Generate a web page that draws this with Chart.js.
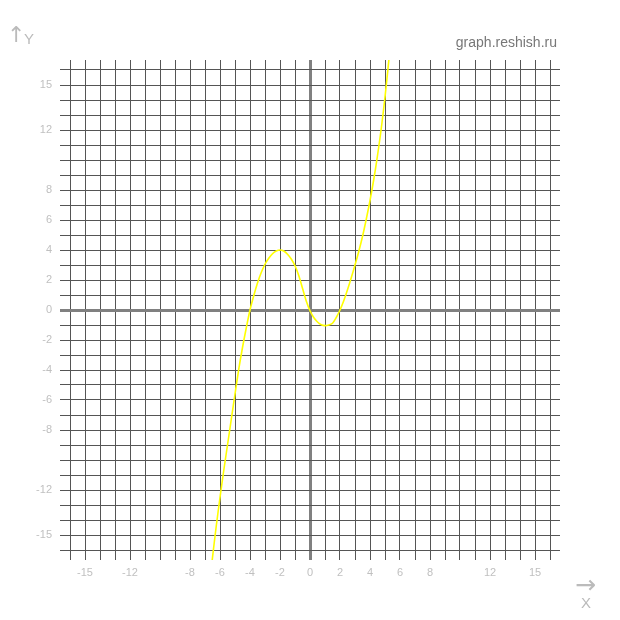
<!DOCTYPE html>
<html>
<head>
<meta charset="utf-8">
<script src="https://cdn.jsdelivr.net/npm/chart.js@4/dist/chart.umd.min.js"></script>
<style>
  html, body { margin: 0; padding: 0; background: #fff; }
  #wrap { position: relative; width: 620px; height: 620px; }
  .lbl { position: absolute; font-family: "Liberation Sans", Arial, sans-serif; white-space: nowrap; line-height: 1; }
  #site { right: 63px; top: 35px; font-size: 14px; color: #777; }
  #yarrow { left: 7px; top: 24px; font-size: 22px; color: #bbb; font-family: "DejaVu Sans", sans-serif; }
  #ylab { left: 24px; top: 31px; font-size: 15px; color: #bbb; }
  #xarrow { left: 575px; top: 572px; font-size: 25px; color: #bbb; font-family: "DejaVu Sans", sans-serif; }
  #xlab { left: 581px; top: 595px; font-size: 15px; color: #bbb; }
</style>
</head>
<body>
<div id="wrap">
  <canvas id="graph" width="620" height="620"></canvas>
  <div class="lbl" id="site">graph.reshish.ru</div>
  <div class="lbl" id="yarrow">↑</div>
  <div class="lbl" id="ylab">Y</div>
  <div class="lbl" id="xarrow">→</div>
  <div class="lbl" id="xlab">X</div>
</div>
<script>
// curve values, every 0.25 along x
const curveX = [-6.75, -6.5, -6.25, -6.0, -5.75, -5.5, -5.25, -5.0, -4.75, -4.5, -4.25, -4.0,
  -3.75, -3.5, -3.25, -3.0, -2.75, -2.5, -2.25, -2.0, -1.75, -1.5, -1.25, -1.0,
  -0.75, -0.5, -0.25, 0, 0.25, 0.5, 0.75, 1.0, 1.25, 1.5, 1.75, 2.0,
  2.25, 2.5, 2.75, 3.0, 3.25, 3.5, 3.75, 4.0, 4.25, 4.5, 4.75, 5.0, 5.25, 5.5];
const curveY = [-18.7, -16.5, -14.4, -12.5, -10.7, -9.0, -7.3, -5.6, -3.95, -2.5, -1.2, 0,
  0.95, 1.8, 2.5, 3.05, 3.45, 3.75, 3.93, 4.0, 3.93, 3.72, 3.4, 2.95,
  2.3, 1.45, 0.6, -0.05, -0.5, -0.8, -0.98, -1.04, -1.0, -0.88, -0.5, 0,
  0.62, 1.35, 2.15, 3.0, 3.9, 4.9, 6.05, 7.3, 8.7, 10.3, 12.1, 14.2, 16.6, 19.4];

const gridValues = [];
for (let v = -16; v <= 16; v++) gridValues.push(v);
const xTickLabels = [-15, -12, -8, -6, -4, -2, 0, 2, 4, 6, 8, 12, 15];
const yTickLabels = [-15, -12, -8, -6, -4, -2, 0, 2, 4, 6, 8, 12, 15];

(function () {
  const canvas = document.getElementById('graph');
  const points = curveX.map((x, i) => ({ x: x, y: curveY[i] }));

  function axis(labels, isY) {
    return {
      type: 'linear',
      min: -50 / 3,
      max: 50 / 3,
      position: isY ? 'left' : 'bottom',
      afterBuildTicks: (scale) => {
        scale.ticks = gridValues.map((v) => ({ value: v }));
      },
      afterFit: (scale) => {
        if (isY) scale.width = 60;
        else scale.height = 60;
      },
      border: { display: false },
      grid: {
        drawTicks: false,
        color: (ctx) => (ctx.tick && ctx.tick.value === 0 ? '#808080' : '#555555'),
        lineWidth: (ctx) => (ctx.tick && ctx.tick.value === 0 ? 3 : 1),
      },
      ticks: {
        autoSkip: false,
        maxRotation: 0,
        padding: isY ? 8 : 6,
        color: '#c0c0c0',
        font: { family: '"Liberation Sans", Arial, sans-serif', size: 11 },
        callback: (value) => (labels.includes(value) ? String(value) : ''),
      },
    };
  }

  new Chart(canvas, {
    type: 'scatter',
    data: {
      datasets: [
        {
          data: points,
          showLine: true,
          borderColor: '#ffff00',
          borderWidth: 1.6,
          pointRadius: 0,
          tension: 0.3,
          fill: false,
        },
      ],
    },
    options: {
      responsive: false,
      animation: false,
      layout: { padding: { left: 0, top: 60, right: 60, bottom: 0 } },
      plugins: { legend: { display: false }, tooltip: { enabled: false } },
      scales: {
        x: axis(xTickLabels, false),
        y: axis(yTickLabels, true),
      },
    },
  });
})();
</script>
</body>
</html>
